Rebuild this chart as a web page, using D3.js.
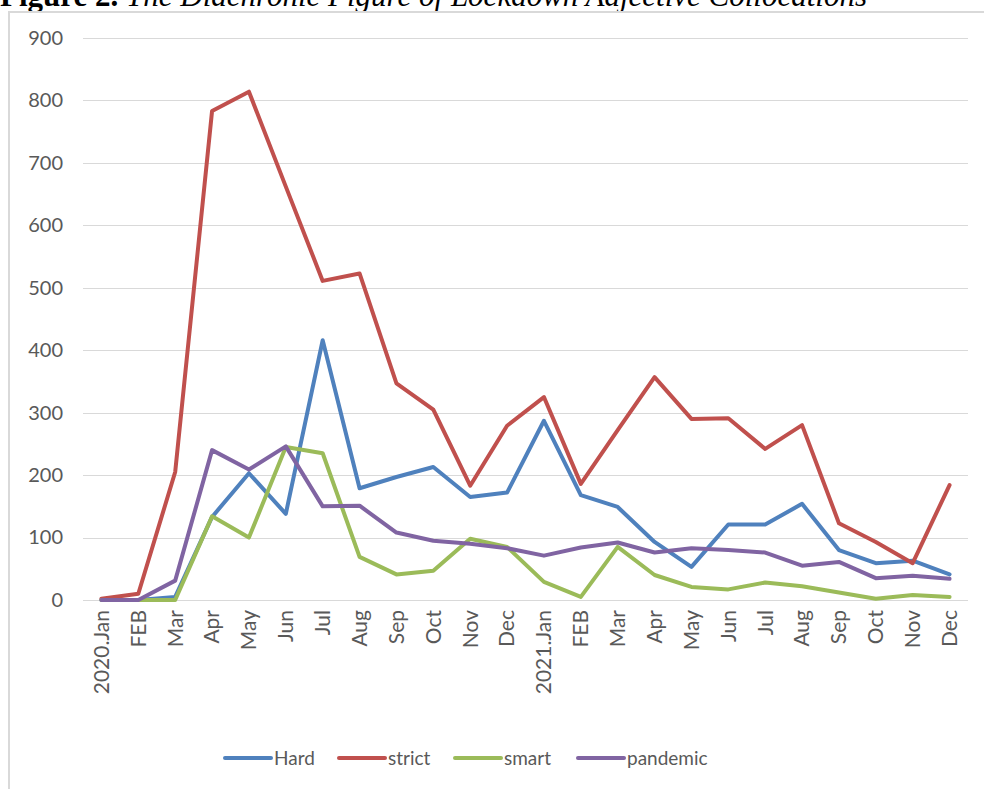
<!DOCTYPE html>
<html>
<head>
<meta charset="utf-8">
<script src="https://cdn.jsdelivr.net/npm/d3@7"></script>
<style>
  html, body { margin: 0; padding: 0; background: #fff; }
  svg { display: block; }
</style>
</head>
<body>
<script>
const months = ["2020.Jan","FEB","Mar","Apr","May","Jun","Jul","Aug","Sep","Oct","Nov","Dec",
                "2021.Jan","FEB","Mar","Apr","May","Jun","Jul","Aug","Sep","Oct","Nov","Dec"];
const hard     = [0, 0, 5, 133, 203, 138, 416, 179, 197, 213, 165, 172, 287, 168, 149, 93, 53, 121, 121, 154, 80, 59, 63, 41];
const strict   = [2, 10, 205, 783, 814, 662, 511, 523, 347, 305, 183, 279, 325, 186, 272, 357, 290, 291, 242, 280, 123, 93, 59, 184];
const smart    = [0, 0, 0, 134, 100, 245, 235, 69, 41, 47, 98, 85, 29, 5, 85, 40, 21, 17, 28, 22, 12, 2, 8, 5];
const pandemic = [0, 0, 31, 240, 209, 246, 150, 151, 108, 95, 90, 83, 71, 84, 92, 76, 83, 80, 76, 55, 61, 35, 39, 34];
const seriesNames = ["Hard", "strict", "smart", "pandemic"];
const seriesColors = ["#4F81BD", "#C0504D", "#9BBB59", "#8064A2"];
const yTicks = [0, 100, 200, 300, 400, 500, 600, 700, 800, 900];

const series = [hard, strict, smart, pandemic].map((vals, i) => ({
  name: seriesNames[i], color: seriesColors[i], values: vals
}));

const W = 984, H = 789;
const svg = d3.select("body").append("svg").attr("width", W).attr("height", H);

// title (cropped at top of page, as in the reference)
const title = svg.append("text")
  .attr("x", 0).attr("y", 6)
  .attr("font-family", "'Liberation Serif', 'Times New Roman', serif")
  .attr("font-size", 31).attr("fill", "#000");
title.append("tspan").attr("font-weight", "bold").text("Figure 2. ");
title.append("tspan").attr("font-style", "italic").text("The Diachronic Figure of Lockdown Adjective Collocations");

// chart frame
svg.append("rect")
  .attr("x", 9).attr("y", 12).attr("width", W + 10).attr("height", H + 10)
  .attr("fill", "none").attr("stroke", "#d9d9d9").attr("stroke-width", 2);

const plot = { left: 83, right: 968, top: 38, bottom: 600 };

const x = d3.scaleBand().domain(d3.range(months.length)).range([plot.left, plot.right]);
const xc = i => x(i) + x.bandwidth() / 2;
const y = d3.scaleLinear().domain([0, 900]).range([plot.bottom, plot.top]);

const font = "Lato, 'Open Sans', sans-serif";
const textColor = "#595959";

// gridlines
svg.append("g").selectAll("line").data(yTicks).join("line")
  .attr("x1", plot.left).attr("x2", plot.right)
  .attr("y1", d => Math.round(y(d)) + 0.5).attr("y2", d => Math.round(y(d)) + 0.5)
  .attr("stroke", "#d9d9d9").attr("stroke-width", 1.2);

// y axis labels
const yAxis = d3.axisLeft(y).tickValues(yTicks).tickSize(0).tickPadding(0);
const gy = svg.append("g").attr("transform", `translate(${plot.left - 20},0)`).call(yAxis);
gy.select(".domain").remove();
gy.selectAll("text").attr("font-family", font).attr("font-size", 20).attr("fill", textColor);

// x axis labels
const xAxis = d3.axisBottom(x).tickFormat(i => months[i]).tickSize(0).tickPadding(0);
const gx = svg.append("g").attr("transform", `translate(0,${plot.bottom})`).call(xAxis);
gx.select(".domain").remove();
gx.selectAll("text")
  .attr("font-family", font).attr("font-size", 21).attr("fill", textColor)
  .attr("text-anchor", "end")
  .attr("dy", "0.35em")
  .attr("transform", "translate(0,10) rotate(-90)")
  .attr("x", 0).attr("y", 0);

// lines
const line = d3.line().x((d, i) => xc(i)).y(d => y(d));
svg.append("g").selectAll("path").data(series).join("path")
  .attr("d", d => line(d.values))
  .attr("fill", "none")
  .attr("stroke", d => d.color)
  .attr("stroke-width", 4)
  .attr("stroke-linejoin", "round")
  .attr("stroke-linecap", "round");

// legend
const legendItems = [
  { lx: 225, tx: 274 },
  { lx: 339, tx: 388 },
  { lx: 455, tx: 504 },
  { lx: 578, tx: 627 }
];
const lg = svg.append("g");
series.forEach((s, i) => {
  const it = legendItems[i];
  lg.append("line")
    .attr("x1", it.lx).attr("x2", it.lx + 46)
    .attr("y1", 758).attr("y2", 758)
    .attr("stroke", s.color).attr("stroke-width", 4).attr("stroke-linecap", "round");
  lg.append("text")
    .attr("x", it.tx).attr("y", 758).attr("dy", "0.35em")
    .attr("font-family", font).attr("font-size", 19).attr("fill", textColor)
    .text(s.name);
});
</script>
</body>
</html>
